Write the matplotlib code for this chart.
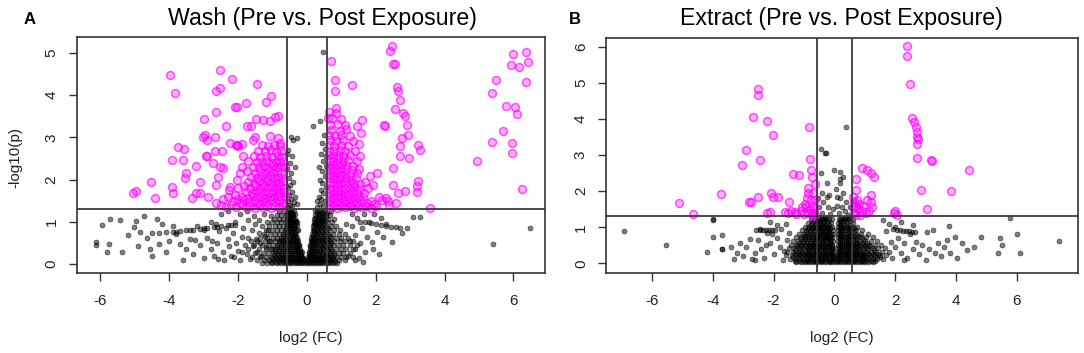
import numpy as np
import matplotlib
matplotlib.use("Agg")
import matplotlib.pyplot as plt

plt.rcParams['font.family'] = ['Liberation Sans', 'DejaVu Sans']

# ---------------- thresholds ----------------
p_cut = 0.05
fc_cut = 1.5
x_ticks = [-6, -4, -2, 0, 2, 4, 6]
x_tick_labels = ['-6', '-4', '-2', '0', '2', '4', '6']

# ---------------- Panel A: Wash ----------------
wash_sig_scatter = [
    (-5.05, 1.69), (-4.97, 1.74), (-4.52, 1.95), (-4.42, 1.56), (-3.98, 4.48), (-3.84, 4.05),
    (-3.93, 2.47), (-3.88, 1.68), (-3.93, 1.83), (-3.74, 2.78), (-3.58, 2.73), (-3.59, 2.47),
    (-3.50, 2.15), (-3.55, 2.03), (-3.35, 1.56), (-3.21, 2.32), (-3.21, 1.69), (-3.11, 1.95),
    (-3.11, 1.68), (-2.99, 3.43), (-2.97, 3.06), (-3.01, 3.02), (-2.91, 2.94), (-2.94, 2.56),
    (-2.87, 1.60), (-2.67, 3.02), (-2.63, 4.09), (-2.53, 4.17), (-2.53, 4.60), (-2.63, 3.61),
    (-2.63, 1.88), (-2.58, 2.07), (-2.48, 2.67), (-2.43, 2.27), (-2.34, 3.26), (-2.24, 2.86),
    (-2.24, 1.83), (-2.19, 4.38), (-2.09, 3.73), (-2.04, 3.72), (-2.04, 2.82), (-2.04, 1.99),
    (-1.90, 2.31), (-2.72, 2.39), (-2.53, 2.31), (-1.78, 3.81), (-1.75, 3.26), (-1.61, 3.26),
    (-1.49, 3.43), (-1.46, 4.27), (-1.27, 3.42), (-1.19, 3.85), (-1.03, 3.97), (-1.08, 3.40),
    (-0.93, 3.48), (-0.83, 3.51), (-1.51, 3.02), (-1.56, 2.94), (-1.08, 3.03), (-0.83, 2.99),
    (-0.78, 2.87), (-2.06, 2.83), (-2.00, 2.79), (-1.90, 2.84), (-2.67, 2.67), (-2.91, 2.55),
    (-2.50, 1.40), (-2.65, 1.45), (-2.45, 1.55), (-2.30, 1.60), (-2.10, 1.65), (-2.00, 1.55),
    (-2.25, 1.75), (-2.00, 1.80), (-1.85, 2.55), (-1.95, 2.15), (-1.70, 2.45),
]
wash_sig_down_core = [
    (-2.35, 1.36), (-2.20, 1.40), (-2.05, 1.35), (-1.90, 1.42), (-1.78, 1.35), (-1.65, 1.38),
    (-1.52, 1.34), (-1.40, 1.40), (-1.28, 1.35), (-1.16, 1.38), (-1.04, 1.34), (-0.92, 1.39),
    (-0.80, 1.35), (-0.68, 1.37), (-2.15, 1.50), (-1.95, 1.46), (-1.82, 1.52), (-1.68, 1.47),
    (-1.55, 1.50), (-1.42, 1.46), (-1.30, 1.50), (-1.18, 1.47), (-1.06, 1.51), (-0.94, 1.47),
    (-0.82, 1.50), (-0.70, 1.46), (-1.88, 1.60), (-1.72, 1.57), (-1.58, 1.62), (-1.45, 1.58),
    (-1.33, 1.61), (-1.20, 1.57), (-1.08, 1.60), (-0.96, 1.58), (-0.85, 1.62), (-0.74, 1.58),
    (-0.64, 1.60), (-1.76, 1.72), (-1.60, 1.69), (-1.47, 1.73), (-1.35, 1.70), (-1.23, 1.72),
    (-1.11, 1.68), (-0.99, 1.72), (-0.88, 1.69), (-0.77, 1.72), (-0.66, 1.70), (-1.82, 1.84),
    (-1.64, 1.81), (-1.50, 1.85), (-1.37, 1.80), (-1.26, 1.84), (-1.14, 1.81), (-1.02, 1.85),
    (-0.90, 1.81), (-0.79, 1.84), (-0.68, 1.80), (-1.70, 1.95), (-1.55, 1.92), (-1.40, 1.96),
    (-1.28, 1.93), (-1.16, 1.96), (-1.04, 1.92), (-0.92, 1.95), (-0.80, 1.93), (-0.69, 1.96),
    (-1.62, 2.07), (-1.45, 2.04), (-1.32, 2.08), (-1.20, 2.05), (-1.07, 2.08), (-0.95, 2.04),
    (-0.83, 2.07), (-0.71, 2.05), (-1.75, 2.20), (-1.50, 2.17), (-1.36, 2.20), (-1.22, 2.16),
    (-1.10, 2.20), (-0.98, 2.17), (-0.86, 2.20), (-0.74, 2.17), (-1.58, 2.31), (-1.40, 2.29),
    (-1.24, 2.32), (-1.12, 2.28), (-0.99, 2.32), (-0.88, 2.29), (-0.76, 2.32), (-0.65, 2.30),
    (-1.45, 2.43), (-1.30, 2.41), (-1.15, 2.44), (-1.02, 2.40), (-0.90, 2.43), (-0.78, 2.41),
    (-0.68, 2.44), (-1.55, 2.56), (-1.35, 2.54), (-1.18, 2.57), (-1.00, 2.53), (-0.85, 2.56),
    (-0.72, 2.54), (-1.42, 2.69), (-1.22, 2.67), (-1.05, 2.70), (-0.90, 2.66), (-0.74, 2.69),
    (-1.30, 2.81), (-1.12, 2.79), (-0.95, 2.82), (-0.78, 2.80),
]
wash_sig_up_core = [
    (0.64, 1.35), (0.76, 1.38), (0.88, 1.34), (1.00, 1.37), (1.12, 1.35), (1.24, 1.38),
    (1.36, 1.34), (1.48, 1.37), (1.60, 1.35), (1.72, 1.38), (1.86, 1.34), (2.00, 1.37),
    (0.63, 1.47), (0.75, 1.45), (0.87, 1.48), (0.99, 1.45), (1.11, 1.47), (1.23, 1.44),
    (1.35, 1.48), (1.47, 1.45), (1.60, 1.47), (1.74, 1.45), (0.64, 1.58), (0.76, 1.56),
    (0.88, 1.59), (1.00, 1.56), (1.12, 1.58), (1.24, 1.55), (1.36, 1.59), (1.50, 1.56),
    (1.62, 1.58), (0.63, 1.69), (0.75, 1.67), (0.87, 1.70), (0.99, 1.67), (1.11, 1.69),
    (1.23, 1.66), (1.35, 1.70), (1.48, 1.67), (1.66, 1.69), (0.64, 1.81), (0.76, 1.79),
    (0.88, 1.82), (1.00, 1.79), (1.12, 1.81), (1.24, 1.78), (1.38, 1.82), (1.52, 1.79),
    (0.63, 1.92), (0.75, 1.90), (0.87, 1.93), (0.99, 1.90), (1.11, 1.92), (1.24, 1.89),
    (1.37, 1.93), (1.55, 1.90), (0.64, 2.03), (0.76, 2.01), (0.88, 2.04), (1.00, 2.01),
    (1.13, 2.03), (1.27, 2.00), (1.42, 2.04), (0.63, 2.14), (0.75, 2.12), (0.87, 2.15),
    (0.99, 2.12), (1.12, 2.14), (1.26, 2.11), (1.45, 2.15), (0.64, 2.25), (0.76, 2.23),
    (0.88, 2.26), (1.00, 2.23), (1.14, 2.25), (1.30, 2.22), (1.50, 2.26), (0.63, 2.36),
    (0.75, 2.34), (0.87, 2.37), (1.00, 2.34), (1.15, 2.36), (1.33, 2.33), (0.64, 2.47),
    (0.77, 2.45), (0.90, 2.48), (1.04, 2.45), (1.20, 2.47), (1.45, 2.44), (0.63, 2.58),
    (0.76, 2.56), (0.90, 2.59), (1.05, 2.56), (1.25, 2.58), (0.65, 2.69), (0.80, 2.67),
    (0.95, 2.70), (1.12, 2.67), (1.40, 2.69), (0.64, 2.81), (0.80, 2.79), (0.98, 2.82),
    (1.20, 2.79), (0.66, 2.93), (0.85, 2.91), (1.05, 2.94), (1.35, 2.92), (0.64, 3.05),
    (0.82, 3.03), (1.00, 3.06), (1.25, 3.04), (0.70, 3.18), (0.95, 3.16), (1.15, 3.19),
    (0.66, 3.30), (0.90, 3.32), (1.10, 3.29), (0.72, 3.45), (1.00, 3.43), (0.62, 3.47),
    (0.65, 3.60), (0.85, 3.58), (1.55, 2.55), (1.50, 2.85), (1.57, 3.10), (1.45, 3.28),
]
wash_sig_right = [
    (2.46, 5.16), (2.41, 5.04), (2.51, 4.74), (2.56, 4.74), (0.69, 4.82), (0.81, 4.35),
    (0.81, 4.09), (1.30, 4.25), (2.63, 4.19), (2.66, 4.09), (2.70, 3.89), (2.56, 3.68),
    (2.78, 3.58), (2.85, 3.50), (2.90, 3.30), (2.24, 3.30), (2.27, 3.26), (2.75, 2.99),
    (2.95, 3.06), (2.70, 2.79), (3.24, 2.83), (3.29, 2.71), (2.70, 2.55), (2.97, 2.51),
    (2.51, 2.28), (2.03, 2.16), (1.83, 2.08), (3.24, 1.96), (3.19, 1.84), (2.51, 1.88),
    (2.64, 1.69), (2.85, 1.74), (3.19, 1.72), (1.78, 1.80), (1.93, 1.88), (1.59, 3.42),
    (0.86, 3.70), (2.30, 1.57), (2.36, 1.49), (2.17, 1.53), (2.10, 1.60), (2.40, 1.40),
    (3.58, 1.32), (4.93, 2.44), (5.37, 4.06), (5.51, 4.36), (5.37, 2.90), (5.69, 3.16),
    (5.80, 3.74), (5.97, 2.86), (5.95, 2.64), (6.05, 3.72), (6.11, 3.56), (6.00, 4.97),
    (5.93, 4.72), (6.17, 4.67), (6.36, 5.02), (6.43, 4.78), (6.36, 4.32), (6.25, 1.77),
    (1.70, 1.95), (1.85, 1.50), (1.95, 1.42), (2.60, 1.45),
]
wash_ns_rows_y = [0.03, 0.10, 0.18, 0.27, 0.36, 0.45, 0.54, 0.63, 0.72, 0.81, 0.90, 0.99, 1.08, 1.17, 1.26]
wash_ns_rows_x = [
    [-1.3, -1.15, -1.0, -0.88, -0.76, -0.65, -0.55, -0.45, -0.36, -0.27, -0.18, -0.09, 0.0, 0.09, 0.18, 0.27, 0.36, 0.45, 0.55, 0.65, 0.76, 0.88],
    [-1.45, -1.25, -1.1, -0.97, -0.85, -0.74, -0.63, -0.53, -0.43, -0.34, -0.25, -0.16, -0.07, 0.02, 0.11, 0.2, 0.29, 0.38, 0.48, 0.58, 0.69, 0.8, 0.94, 1.1],
    [-1.6, -1.35, -1.18, -1.04, -0.91, -0.79, -0.68, -0.58, -0.48, -0.39, -0.3, -0.21, -0.13, 0.04, 0.13, 0.22, 0.31, 0.41, 0.51, 0.62, 0.73, 0.85, 0.98, 1.15, 1.35],
    [-1.5, -1.28, -1.12, -0.98, -0.86, -0.74, -0.63, -0.53, -0.43, -0.34, -0.25, -0.16, 0.06, 0.15, 0.24, 0.34, 0.44, 0.55, 0.66, 0.78, 0.92, 1.06, 1.25],
    [-1.7, -1.4, -1.2, -1.05, -0.92, -0.8, -0.69, -0.58, -0.48, -0.38, -0.29, -0.2, 0.08, 0.17, 0.27, 0.37, 0.48, 0.59, 0.71, 0.84, 0.98, 1.15, 1.4],
    [-1.55, -1.3, -1.13, -0.99, -0.86, -0.74, -0.63, -0.52, -0.42, -0.32, -0.23, 0.1, 0.2, 0.3, 0.4, 0.51, 0.63, 0.76, 0.9, 1.05, 1.25],
    [-1.45, -1.22, -1.06, -0.92, -0.8, -0.68, -0.57, -0.46, -0.36, -0.26, 0.12, 0.22, 0.32, 0.43, 0.55, 0.67, 0.8, 0.95, 1.12, 1.35],
    [-1.35, -1.15, -0.99, -0.86, -0.74, -0.63, -0.52, -0.41, -0.3, 0.13, 0.24, 0.35, 0.46, 0.58, 0.71, 0.85, 1.0, 1.2],
    [-1.25, -1.07, -0.93, -0.8, -0.68, -0.57, -0.46, -0.35, 0.15, 0.26, 0.37, 0.49, 0.62, 0.76, 0.92, 1.1],
    [-1.18, -1.0, -0.86, -0.74, -0.62, -0.51, -0.4, -0.3, 0.17, 0.28, 0.4, 0.52, 0.65, 0.8, 0.97],
    [-1.1, -0.94, -0.8, -0.68, -0.56, -0.45, -0.34, 0.19, 0.3, 0.42, 0.55, 0.7, 0.86],
    [-1.02, -0.87, -0.74, -0.62, -0.51, -0.4, -0.3, 0.2, 0.32, 0.44, 0.58, 0.74],
    [-0.95, -0.8, -0.68, -0.57, -0.46, -0.36, 0.22, 0.34, 0.47, 0.62, 0.8],
    [-0.88, -0.74, -0.62, -0.51, -0.41, 0.24, 0.36, 0.5, 0.66],
    [-0.8, -0.67, -0.56, -0.46, -0.37, 0.25, 0.38, 0.52, 0.7],
]
wash_ns_rows2_y = [0.065, 0.14, 0.225, 0.315, 0.405, 0.495, 0.585, 0.675, 0.765, 0.855, 0.945, 1.035, 1.125, 1.215]
wash_ns_rows2_x = [
    [-1.05, -0.94, -0.82, -0.7, -0.6, -0.5, -0.4, -0.31, -0.22, -0.13, -0.04, 0.05, 0.14, 0.23, 0.32, 0.41, 0.5, 0.6, 0.7, 0.82],
    [-1.0, -0.9, -0.79, -0.68, -0.58, -0.48, -0.38, -0.29, -0.2, -0.11, 0.07, 0.16, 0.25, 0.34, 0.44, 0.54, 0.64, 0.75],
    [-0.97, -0.85, -0.73, -0.63, -0.53, -0.44, -0.35, -0.26, -0.17, 0.09, 0.18, 0.27, 0.36, 0.46, 0.57, 0.68, 0.8],
    [-0.92, -0.8, -0.69, -0.58, -0.48, -0.39, -0.3, -0.21, 0.11, 0.2, 0.29, 0.39, 0.5, 0.61, 0.72],
    [-0.86, -0.75, -0.64, -0.54, -0.44, -0.35, -0.27, 0.13, 0.23, 0.33, 0.44, 0.55, 0.67],
    [-0.8, -0.69, -0.58, -0.48, -0.39, -0.3, 0.15, 0.25, 0.35, 0.46, 0.58, 0.7],
    [-0.75, -0.63, -0.52, -0.42, -0.33, 0.16, 0.27, 0.38, 0.5, 0.62],
    [-0.7, -0.58, -0.47, -0.38, 0.18, 0.29, 0.41, 0.53, 0.66],
    [-0.65, -0.54, -0.43, -0.34, 0.2, 0.31, 0.43, 0.56],
    [-0.6, -0.5, -0.4, 0.22, 0.34, 0.46, 0.6],
    [-0.58, -0.47, -0.36, 0.24, 0.36, 0.5],
    [-0.56, -0.45, -0.35, 0.26, 0.39, 0.53],
    [-0.55, -0.44, 0.28, 0.42, 0.56],
    [-0.53, -0.43, 0.3, 0.45, 0.58],
]
wash_ns_arms = [
    (-0.22, 0.45), (-0.28, 0.58), (-0.33, 0.70), (-0.38, 0.85), (-0.43, 0.97), (-0.47, 1.10),
    (-0.52, 1.22), (-0.30, 0.40), (-0.36, 0.52), (-0.41, 0.66), (-0.46, 0.78), (-0.50, 0.92),
    (-0.55, 1.05), (-0.58, 1.20), (-0.15, 0.30), (-0.20, 0.20), (-0.25, 0.33), (-0.12, 0.12),
    (-0.33, 1.02), (-0.40, 1.15), (-0.45, 1.28), (-0.26, 0.80), (-0.30, 0.93), (-0.35, 1.20),
    (0.05, 0.30), (0.10, 0.42), (0.14, 0.55), (0.18, 0.68), (0.22, 0.82), (0.26, 0.95),
    (0.30, 1.08), (0.34, 1.20), (0.12, 0.30), (0.17, 0.45), (0.22, 0.60), (0.27, 0.74),
    (0.32, 0.88), (0.37, 1.00), (0.41, 1.14), (0.45, 1.27), (0.20, 0.95), (0.24, 1.10),
    (0.28, 1.25), (0.07, 0.20), (0.50, 1.05), (0.55, 1.20), (0.45, 0.90),
    (-0.58, 1.35), (-0.50, 1.40), (-0.42, 1.38), (-0.55, 1.50), (-0.47, 1.55), (-0.38, 1.48),
    (-0.52, 1.65), (-0.44, 1.70), (-0.56, 1.80), (-0.48, 1.88), (-0.40, 1.95), (-0.53, 2.05),
    (-0.45, 2.15), (-0.57, 2.25), (-0.50, 2.40), (-0.42, 2.55), (-0.55, 2.70), (-0.40, 2.94),
    (-0.45, 3.02), (-0.30, 2.98), (-0.59, 2.60), (-0.35, 1.60), (-0.30, 1.42), (-0.36, 2.30),
    (0.30, 1.35), (0.38, 1.42), (0.46, 1.38), (0.52, 1.50), (0.42, 1.55), (0.34, 1.60),
    (0.48, 1.68), (0.40, 1.75), (0.55, 1.82), (0.45, 1.92), (0.38, 2.00), (0.52, 2.08),
    (0.43, 2.20), (0.55, 2.32), (0.47, 2.45), (0.40, 2.60), (0.53, 2.72), (0.45, 2.88),
    (0.38, 3.38), (0.18, 3.26), (0.50, 3.05), (0.56, 2.55), (0.28, 1.50), (0.35, 2.30),
    (0.47, 5.03),
]
wash_ns_scatter = [
    (-3.3, 0.25), (-3.1, 0.45), (-3.0, 0.15), (-2.9, 0.62), (-2.8, 0.35), (-2.7, 0.20),
    (-2.6, 0.50), (-2.55, 0.78), (-2.45, 0.30), (-2.4, 0.10), (-2.3, 0.60), (-2.25, 0.42),
    (-2.2, 0.20), (-2.15, 0.75), (-2.1, 1.00), (-2.05, 0.50), (-2.0, 0.32), (-1.95, 0.10),
    (-1.9, 0.65), (-1.85, 0.85), (-1.8, 0.45), (-1.75, 0.25), (-1.7, 1.05), (-1.7, 0.62),
    (-1.65, 0.12), (-1.6, 0.80), (-1.58, 0.42), (-1.55, 1.15), (-1.5, 0.95), (-1.48, 0.60),
    (-1.45, 0.30), (-1.4, 0.75), (-1.38, 1.05), (-1.35, 0.50), (-1.32, 0.20), (-1.3, 0.90),
    (-1.25, 1.20), (-1.22, 0.68), (-1.2, 0.40), (-1.15, 1.00), (-1.12, 0.82), (-1.1, 0.55),
    (-1.05, 1.15), (-1.0, 0.35), (-2.5, 1.20), (-2.3, 1.25), (-2.8, 1.00), (-3.2, 0.90),
    (-3.4, 0.60), (-3.5, 0.35), (-3.6, 0.10), (-3.7, 0.48), (-3.8, 0.72), (-4.0, 0.55),
    (-4.1, 0.30), (-4.3, 0.48), (-4.5, 0.20), (-3.9, 0.90), (-3.0, 0.80), (-2.65, 0.95),
    (-1.95, 1.20), (-1.75, 1.25), (-2.75, 0.55), (-3.25, 0.58), (-2.35, 0.85), (-1.62, 0.55),
    (-1.88, 0.30), (-2.12, 0.18), (-2.58, 0.12),
    (-4.5, 0.74), (-4.3, 0.74), (-4.1, 0.76), (-3.9, 0.77), (-3.7, 0.78), (-3.5, 0.80),
    (-3.3, 0.82), (-3.1, 0.84), (-2.9, 0.86), (-2.7, 0.88), (-2.5, 0.90), (-2.3, 0.92),
    (-2.1, 0.93), (-3.8, 0.76), (-3.4, 0.80), (-3.0, 0.85), (-2.6, 0.89), (-2.2, 0.92),
    (-5.95, 0.93), (-5.71, 1.08), (-5.42, 1.04), (-6.14, 0.53), (-6.14, 0.45), (-5.76, 0.49),
    (-5.81, 0.29), (-5.37, 0.29), (-4.98, 1.03), (-5.03, 0.89), (-4.74, 1.14), (-4.35, 1.08),
    (-4.84, 0.77), (-4.65, 0.62), (-4.9, 0.42), (-4.2, 0.95), (-4.55, 0.35), (-5.2, 0.70),
    (1.2, 0.20), (1.25, 0.55), (1.3, 0.90), (1.35, 0.35), (1.4, 0.70), (1.45, 1.10),
    (1.5, 0.15), (1.55, 0.50), (1.6, 0.85), (1.65, 1.20), (1.7, 0.30), (1.75, 0.65),
    (1.8, 1.00), (1.88, 0.53), (1.93, 0.37), (2.03, 0.77), (2.22, 0.65), (2.46, 0.53),
    (2.75, 0.73), (2.9, 0.85), (3.09, 1.12), (2.1, 0.25), (2.3, 0.95), (1.95, 1.20),
    (2.15, 1.10), (1.45, 0.45), (1.3, 1.20), (1.15, 0.95), (1.62, 0.05), (1.4, 0.10),
    (1.54, 1.00), (1.7, 0.99), (1.85, 0.97), (2.0, 0.95), (2.15, 0.93), (2.3, 0.91),
    (2.45, 0.89), (2.6, 0.87), (2.7, 0.85), (5.42, 0.49), (6.48, 0.85), (3.3, 1.12),
]

# ---------------- Panel B: Extract ----------------
extract_sig = [
    (-5.11, 1.66), (-4.64, 1.38), (-3.73, 1.92), (-3.03, 2.72), (-2.89, 3.14), (-2.80, 1.69),
    (-2.75, 1.71), (-2.67, 4.06), (-2.52, 4.83), (-2.52, 4.68), (-2.50, 1.85), (-2.45, 2.86),
    (-2.23, 3.95), (-2.21, 1.40), (-2.12, 1.43), (-2.08, 1.94), (-2.01, 3.55), (-2.01, 1.85),
    (-1.84, 1.85), (-1.49, 1.69), (-1.63, 1.42), (-1.52, 1.40), (-1.42, 1.44), (-1.35, 2.49),
    (-1.30, 1.42), (-1.25, 1.38), (-1.15, 2.45), (-0.83, 3.78), (-0.80, 2.88), (-0.77, 2.58),
    (-0.64, 2.21), (-0.69, 1.94), (-0.85, 2.10), (-0.90, 1.80), (-0.78, 1.75), (-0.92, 1.55),
    (-0.80, 1.50), (-0.70, 1.60), (-0.66, 1.40), (-0.75, 1.37), (-0.88, 1.40), (-1.00, 1.38),
    (-1.10, 1.45), (-0.95, 1.65), (-0.72, 2.40), (-0.65, 1.75), (-0.68, 1.50), (-1.05, 1.55),
    (-0.85, 1.95), (-0.62, 1.33), (-0.70, 1.32),
    (0.90, 2.65), (1.06, 2.58), (1.22, 2.51), (1.30, 2.40), (0.71, 2.35), (0.73, 2.03),
    (1.22, 1.89), (1.06, 1.75), (1.22, 1.71), (1.25, 1.55), (0.65, 1.70), (0.62, 1.55),
    (0.65, 1.40), (0.72, 1.35), (0.78, 1.50), (0.82, 1.65), (0.75, 1.75), (0.90, 1.45),
    (0.95, 1.60), (1.05, 1.40), (0.68, 1.60), (0.85, 1.35), (1.15, 1.45), (0.62, 1.85),
    (1.96, 1.40), (2.05, 1.34), (2.00, 1.45), (2.40, 6.02), (2.40, 5.75), (2.49, 4.96),
    (2.56, 4.04), (2.62, 3.92), (2.68, 3.78), (2.73, 3.65), (2.71, 3.51), (2.76, 3.46),
    (2.71, 3.32), (2.73, 2.93), (3.17, 2.86), (3.20, 2.83), (4.44, 2.60), (3.83, 2.01),
    (2.84, 2.03), (3.04, 1.52),
]
extract_ns_rows_y = [0.03, 0.12, 0.22, 0.32, 0.42, 0.52, 0.62, 0.72, 0.82, 0.92, 1.02, 1.12, 1.22]
extract_ns_rows_x = [
    [-1.25, -1.1, -0.97, -0.84, -0.71, -0.58, -0.45, -0.32, -0.19, -0.06, 0.07, 0.2, 0.33, 0.46, 0.59, 0.72, 0.85, 0.98, 1.12, 1.28],
    [-1.45, -1.28, -1.13, -0.99, -0.86, -0.73, -0.6, -0.47, -0.34, -0.21, -0.08, 0.05, 0.18, 0.31, 0.44, 0.57, 0.7, 0.83, 0.97, 1.11, 1.26, 1.42, 1.6],
    [-1.6, -1.4, -1.24, -1.09, -0.95, -0.82, -0.69, -0.56, -0.43, -0.3, -0.17, -0.05, 0.09, 0.22, 0.35, 0.48, 0.61, 0.74, 0.88, 1.02, 1.17, 1.33, 1.5, 1.7],
    [-1.55, -1.36, -1.2, -1.05, -0.91, -0.78, -0.65, -0.52, -0.39, -0.26, -0.13, -0.04, 0.12, 0.24, 0.36, 0.48, 0.61, 0.75, 0.89, 1.04, 1.2, 1.37, 1.56, 1.8],
    [-1.5, -1.32, -1.16, -1.02, -0.88, -0.75, -0.62, -0.49, -0.36, -0.23, -0.11, -0.04, 0.12, 0.24, 0.37, 0.5, 0.64, 0.78, 0.93, 1.09, 1.26, 1.45, 1.68],
    [-1.42, -1.25, -1.1, -0.96, -0.83, -0.7, -0.57, -0.44, -0.31, -0.19, -0.08, 0.12, 0.25, 0.38, 0.52, 0.66, 0.81, 0.97, 1.14, 1.33, 1.55],
    [-1.35, -1.18, -1.03, -0.89, -0.76, -0.63, -0.5, -0.37, -0.25, -0.13, -0.04, 0.12, 0.25, 0.39, 0.53, 0.68, 0.84, 1.01, 1.2, 1.42],
    [-1.25, -1.1, -0.96, -0.83, -0.7, -0.57, -0.44, -0.32, -0.2, -0.08, 0.13, 0.26, 0.4, 0.55, 0.7, 0.87, 1.05, 1.26],
    [-1.15, -1.0, -0.87, -0.74, -0.61, -0.48, -0.36, -0.24, -0.12, -0.04, 0.13, 0.26, 0.4, 0.55, 0.71, 0.89, 1.1],
    [-1.05, -0.91, -0.78, -0.65, -0.52, -0.4, -0.28, -0.16, -0.05, 0.13, 0.26, 0.4, 0.56, 0.73, 0.92],
    [-0.95, -0.82, -0.69, -0.56, -0.44, -0.32, -0.2, -0.08, 0.13, 0.26, 0.41, 0.57, 0.76],
    [-0.85, -0.72, -0.6, -0.48, -0.36, -0.24, -0.12, 0.13, 0.27, 0.42, 0.6],
    [-0.78, -0.65, -0.53, -0.41, -0.29, -0.17, -0.06, 0.14, 0.28, 0.44, 0.62],
]
extract_ns_rows2_y = [0.075, 0.17, 0.27, 0.37, 0.47, 0.57, 0.67, 0.77, 0.87, 0.97, 1.07, 1.17, 1.27]
extract_ns_rows2_x = [
    [-1.3, -1.17, -1.04, -0.91, -0.78, -0.65, -0.52, -0.39, -0.26, -0.13, 0.0, 0.13, 0.26, 0.39, 0.52, 0.65, 0.78, 0.91, 1.05, 1.2, 1.35],
    [-1.35, -1.2, -1.06, -0.93, -0.8, -0.67, -0.54, -0.41, -0.28, -0.15, -0.02, 0.11, 0.24, 0.37, 0.5, 0.63, 0.77, 0.9, 1.04, 1.18, 1.34, 1.5],
    [-1.3, -1.16, -1.02, -0.88, -0.75, -0.62, -0.49, -0.36, -0.23, -0.11, 0.15, 0.28, 0.41, 0.54, 0.67, 0.81, 0.95, 1.1, 1.27, 1.45],
    [-1.28, -1.12, -0.98, -0.84, -0.71, -0.58, -0.45, -0.32, -0.19, -0.08, 0.17, 0.3, 0.43, 0.55, 0.68, 0.82, 0.96, 1.12, 1.3],
    [-1.22, -1.08, -0.94, -0.81, -0.68, -0.55, -0.42, -0.29, -0.17, -0.07, 0.18, 0.31, 0.44, 0.57, 0.71, 0.85, 1.0, 1.17],
    [-1.15, -1.02, -0.89, -0.76, -0.63, -0.5, -0.37, -0.25, -0.14, 0.18, 0.31, 0.45, 0.59, 0.74, 0.9, 1.06],
    [-1.08, -0.95, -0.82, -0.69, -0.56, -0.44, -0.31, -0.19, 0.19, 0.32, 0.46, 0.6, 0.76, 0.93],
    [-1.0, -0.87, -0.74, -0.61, -0.49, -0.37, -0.25, -0.14, 0.19, 0.33, 0.47, 0.62, 0.79],
    [-0.92, -0.79, -0.66, -0.54, -0.42, -0.3, -0.18, 0.2, 0.33, 0.48, 0.64],
    [-0.85, -0.72, -0.6, -0.48, -0.36, -0.24, -0.13, 0.2, 0.34, 0.49, 0.66],
    [-0.78, -0.65, -0.53, -0.41, -0.29, -0.17, 0.2, 0.34, 0.5],
    [-0.7, -0.58, -0.46, -0.34, -0.22, 0.21, 0.35, 0.52],
    [-0.62, -0.5, -0.38, -0.26, 0.21, 0.36, 0.5],
]
extract_ns_core = [
    (-0.9, 0.07), (-0.65, 0.07), (-0.4, 0.07), (-0.15, 0.07), (0.12, 0.07), (0.38, 0.07),
    (0.64, 0.07), (0.9, 0.07), (-0.8, 0.17), (-0.55, 0.17), (-0.3, 0.17), (-0.05, 0.17),
    (0.2, 0.17), (0.45, 0.17), (0.7, 0.17), (0.95, 0.17), (-0.9, 0.27), (-0.62, 0.27),
    (-0.36, 0.27), (-0.1, 0.27), (0.16, 0.27), (0.42, 0.27), (0.68, 0.27), (0.94, 0.27),
    (-0.82, 0.37), (-0.56, 0.37), (-0.3, 0.37), (-0.08, 0.37), (0.18, 0.37), (0.44, 0.37),
    (0.7, 0.37), (-0.75, 0.47), (-0.48, 0.47), (-0.22, 0.47), (0.2, 0.47), (0.46, 0.47),
    (0.74, 0.47), (-0.68, 0.57), (-0.42, 0.57), (-0.14, 0.57), (0.19, 0.57), (0.45, 0.57),
    (0.72, 0.57), (-0.6, 0.67), (-0.35, 0.67), (-0.1, 0.67), (0.19, 0.67), (0.47, 0.67),
    (-0.52, 0.77), (-0.27, 0.77), (0.2, 0.77), (0.48, 0.77), (-0.45, 0.87), (-0.2, 0.87),
    (0.2, 0.87), (0.47, 0.87), (-0.55, 0.97), (-0.25, 0.97), (0.22, 0.97), (0.5, 0.97),
    (-0.4, 1.07), (0.2, 1.07), (-0.5, 1.17), (-0.3, 1.25), (0.2, 1.17), (0.36, 1.27),
]
extract_ns_scatter = [
    (-0.31, 3.05), (-0.45, 3.18), (-0.28, 3.05), (0.37, 3.77), (0.18, 2.53), (0.29, 2.40),
    (0.18, 2.22), (-0.25, 2.22), (-0.42, 1.94), (-0.17, 1.89), (-0.36, 1.71), (-0.2, 1.55),
    (-0.05, 1.50), (0.1, 1.60), (0.2, 1.80), (0.3, 1.95), (0.4, 1.70), (0.35, 1.45),
    (0.15, 1.40), (-0.4, 1.40), (-0.5, 1.55), (-0.15, 1.38), (0.45, 1.35), (0.05, 2.05),
    (-0.45, 2.50), (0.0, 2.60), (0.2, 2.35), (0.1, 1.85), (-0.55, 1.80), (0.5, 1.55),
    (0.25, 1.55), (-0.25, 1.85),
    (-1.7, 0.10), (-1.8, 0.45), (-1.9, 0.70), (-2.0, 0.25), (-2.1, 0.55), (-2.2, 0.85),
    (-2.3, 0.15), (-2.4, 0.40), (-2.5, 0.65), (-2.6, 0.30), (-2.7, 0.12), (-2.77, 0.67),
    (-2.9, 0.45), (-3.1, 0.55), (-3.0, 0.20), (-3.2, 0.30), (-3.3, 0.12), (-3.4, 0.45),
    (-3.71, 0.41), (-3.71, 0.78), (-3.98, 0.74), (-3.98, 1.20), (-4.2, 0.32), (-1.75, 0.95),
    (-1.6, 1.10), (-1.9, 1.05), (-2.1, 1.15), (-1.55, 0.65), (-1.65, 0.35), (-1.5, 0.85),
    (-2.25, 0.50), (-2.05, 0.80), (-2.45, 0.95), (-2.6, 0.10),
    (-2.56, 0.92), (-2.45, 0.92), (-2.35, 0.92), (-2.25, 0.92), (-2.15, 0.92), (-2.05, 0.92),
    (-1.95, 0.92), (-6.91, 0.90), (-5.55, 0.51), (-4.0, 1.22), (-3.69, 0.41),
    (1.9, 0.15), (2.0, 0.45), (2.1, 0.70), (2.2, 0.30), (2.3, 0.55), (2.4, 0.15),
    (2.5, 0.80), (2.6, 0.40), (2.7, 0.60), (2.8, 0.25), (2.9, 0.50), (3.0, 0.10),
    (3.04, 0.86), (3.25, 0.92), (3.1, 0.40), (3.3, 0.30), (3.4, 0.55), (3.5, 0.20),
    (3.6, 0.45), (3.77, 1.03), (3.97, 0.74), (3.7, 0.64), (4.19, 0.55), (4.35, 0.37),
    (4.02, 0.14), (4.84, 0.72), (5.45, 0.69), (5.52, 0.51), (5.39, 0.28), (6.02, 0.81),
    (6.1, 0.29), (7.4, 0.63), (5.78, 1.27), (2.0, 1.00), (1.8, 1.10), (2.2, 1.15),
    (1.7, 0.90), (1.85, 0.60), (1.6, 1.20), (2.6, 1.05), (2.3, 0.10), (4.6, 0.45), (3.8, 0.30),
    (1.94, 0.94), (2.05, 0.93), (2.15, 0.92), (2.25, 0.91), (2.35, 0.90), (2.45, 0.89),
    (2.55, 0.88), (2.65, 0.88),
]


def rows_to_pts(ys, xs_rows):
    return [(x, y) for y, xs in zip(ys, xs_rows) for x in xs]


wash_ns = np.array(rows_to_pts(wash_ns_rows_y, wash_ns_rows_x)
                   + rows_to_pts(wash_ns_rows2_y, wash_ns_rows2_x)
                   + wash_ns_arms + wash_ns_scatter)
wash_sig = np.array(wash_sig_scatter + wash_sig_down_core + wash_sig_up_core + wash_sig_right)
extract_ns = np.array(rows_to_pts(extract_ns_rows_y, extract_ns_rows_x)
                      + rows_to_pts(extract_ns_rows2_y, extract_ns_rows2_x)
                      + extract_ns_core + extract_ns_scatter)
extract_sig = np.array(extract_sig)

# ---------------- figure ----------------
W, H = 1084, 353
fig = plt.figure(figsize=(W / 100, H / 100), dpi=100)


def add_ax(l, t, r, b):
    return fig.add_axes([l / W, 1 - b / H, (r - l) / W, (b - t) / H])


axA = add_ax(76.7, 37.3, 545, 272.7)
axB = add_ax(606, 38.3, 1077.5, 272.7)

frame_col = '#333333'


def draw_panel(ax, ns, sig, xlim, ylim, yticks):
    ax.scatter(ns[:, 0], ns[:, 1], s=13, facecolor=(0, 0, 0, 0.5),
               edgecolor=(0, 0, 0, 0.7), linewidths=0.4, zorder=2)
    ax.scatter(sig[:, 0], sig[:, 1], s=32, facecolor=(1, 0, 1, 0.3),
               edgecolor=(1, 0, 1, 0.65), linewidths=1.1, zorder=3)
    ax.axhline(-np.log10(p_cut), color='#3a3a3a', lw=1.3, zorder=4)
    ax.axvline(np.log2(fc_cut), color='#3a3a3a', lw=1.3, zorder=4)
    ax.axvline(-np.log2(fc_cut), color='#3a3a3a', lw=1.3, zorder=4)
    ax.set_xlim(*xlim)
    ax.set_ylim(*ylim)
    ax.set_xticks(x_ticks)
    ax.set_xticklabels(x_tick_labels)
    ax.set_yticks(yticks)
    ax.set_yticklabels([str(v) for v in yticks], rotation=90, va='center')
    ax.tick_params(direction='out', length=6, width=1.0, color=frame_col,
                   labelsize=11, labelcolor='#222222')
    ax.tick_params(axis='x', pad=9)
    ax.tick_params(axis='y', pad=7)
    for sp in ax.spines.values():
        sp.set_color(frame_col)
        sp.set_linewidth(1.2)


draw_panel(axA, wash_ns, wash_sig, (-6.69, 6.92), (-0.20, 5.37), [0, 1, 2, 3, 4, 5])
draw_panel(axB, extract_ns, extract_sig, (-7.51, 8.0), (-0.26, 6.24), [0, 1, 2, 3, 4, 5, 6])

fig.text(322 / W, 1 - 18 / H, 'Wash (Pre vs. Post Exposure)', ha='center', va='center', fontsize=16.7)
fig.text(841 / W, 1 - 18 / H, 'Extract (Pre vs. Post Exposure)', ha='center', va='center', fontsize=16.7)
fig.text(30 / W, 1 - 19 / H, 'A', ha='center', va='center', fontsize=12, fontweight='bold')
fig.text(575 / W, 1 - 19 / H, 'B', ha='center', va='center', fontsize=12, fontweight='bold')
fig.text(311 / W, 1 - 338 / H, 'log2 (FC)', ha='center', va='center', fontsize=11, color='#222222')
fig.text(842 / W, 1 - 338 / H, 'log2 (FC)', ha='center', va='center', fontsize=11, color='#222222')
fig.text(15.5 / W, 1 - 157 / H, '-log10(p)', ha='center', va='center', fontsize=11, rotation=90, color='#222222')

fig.savefig('out.png', dpi=100)
